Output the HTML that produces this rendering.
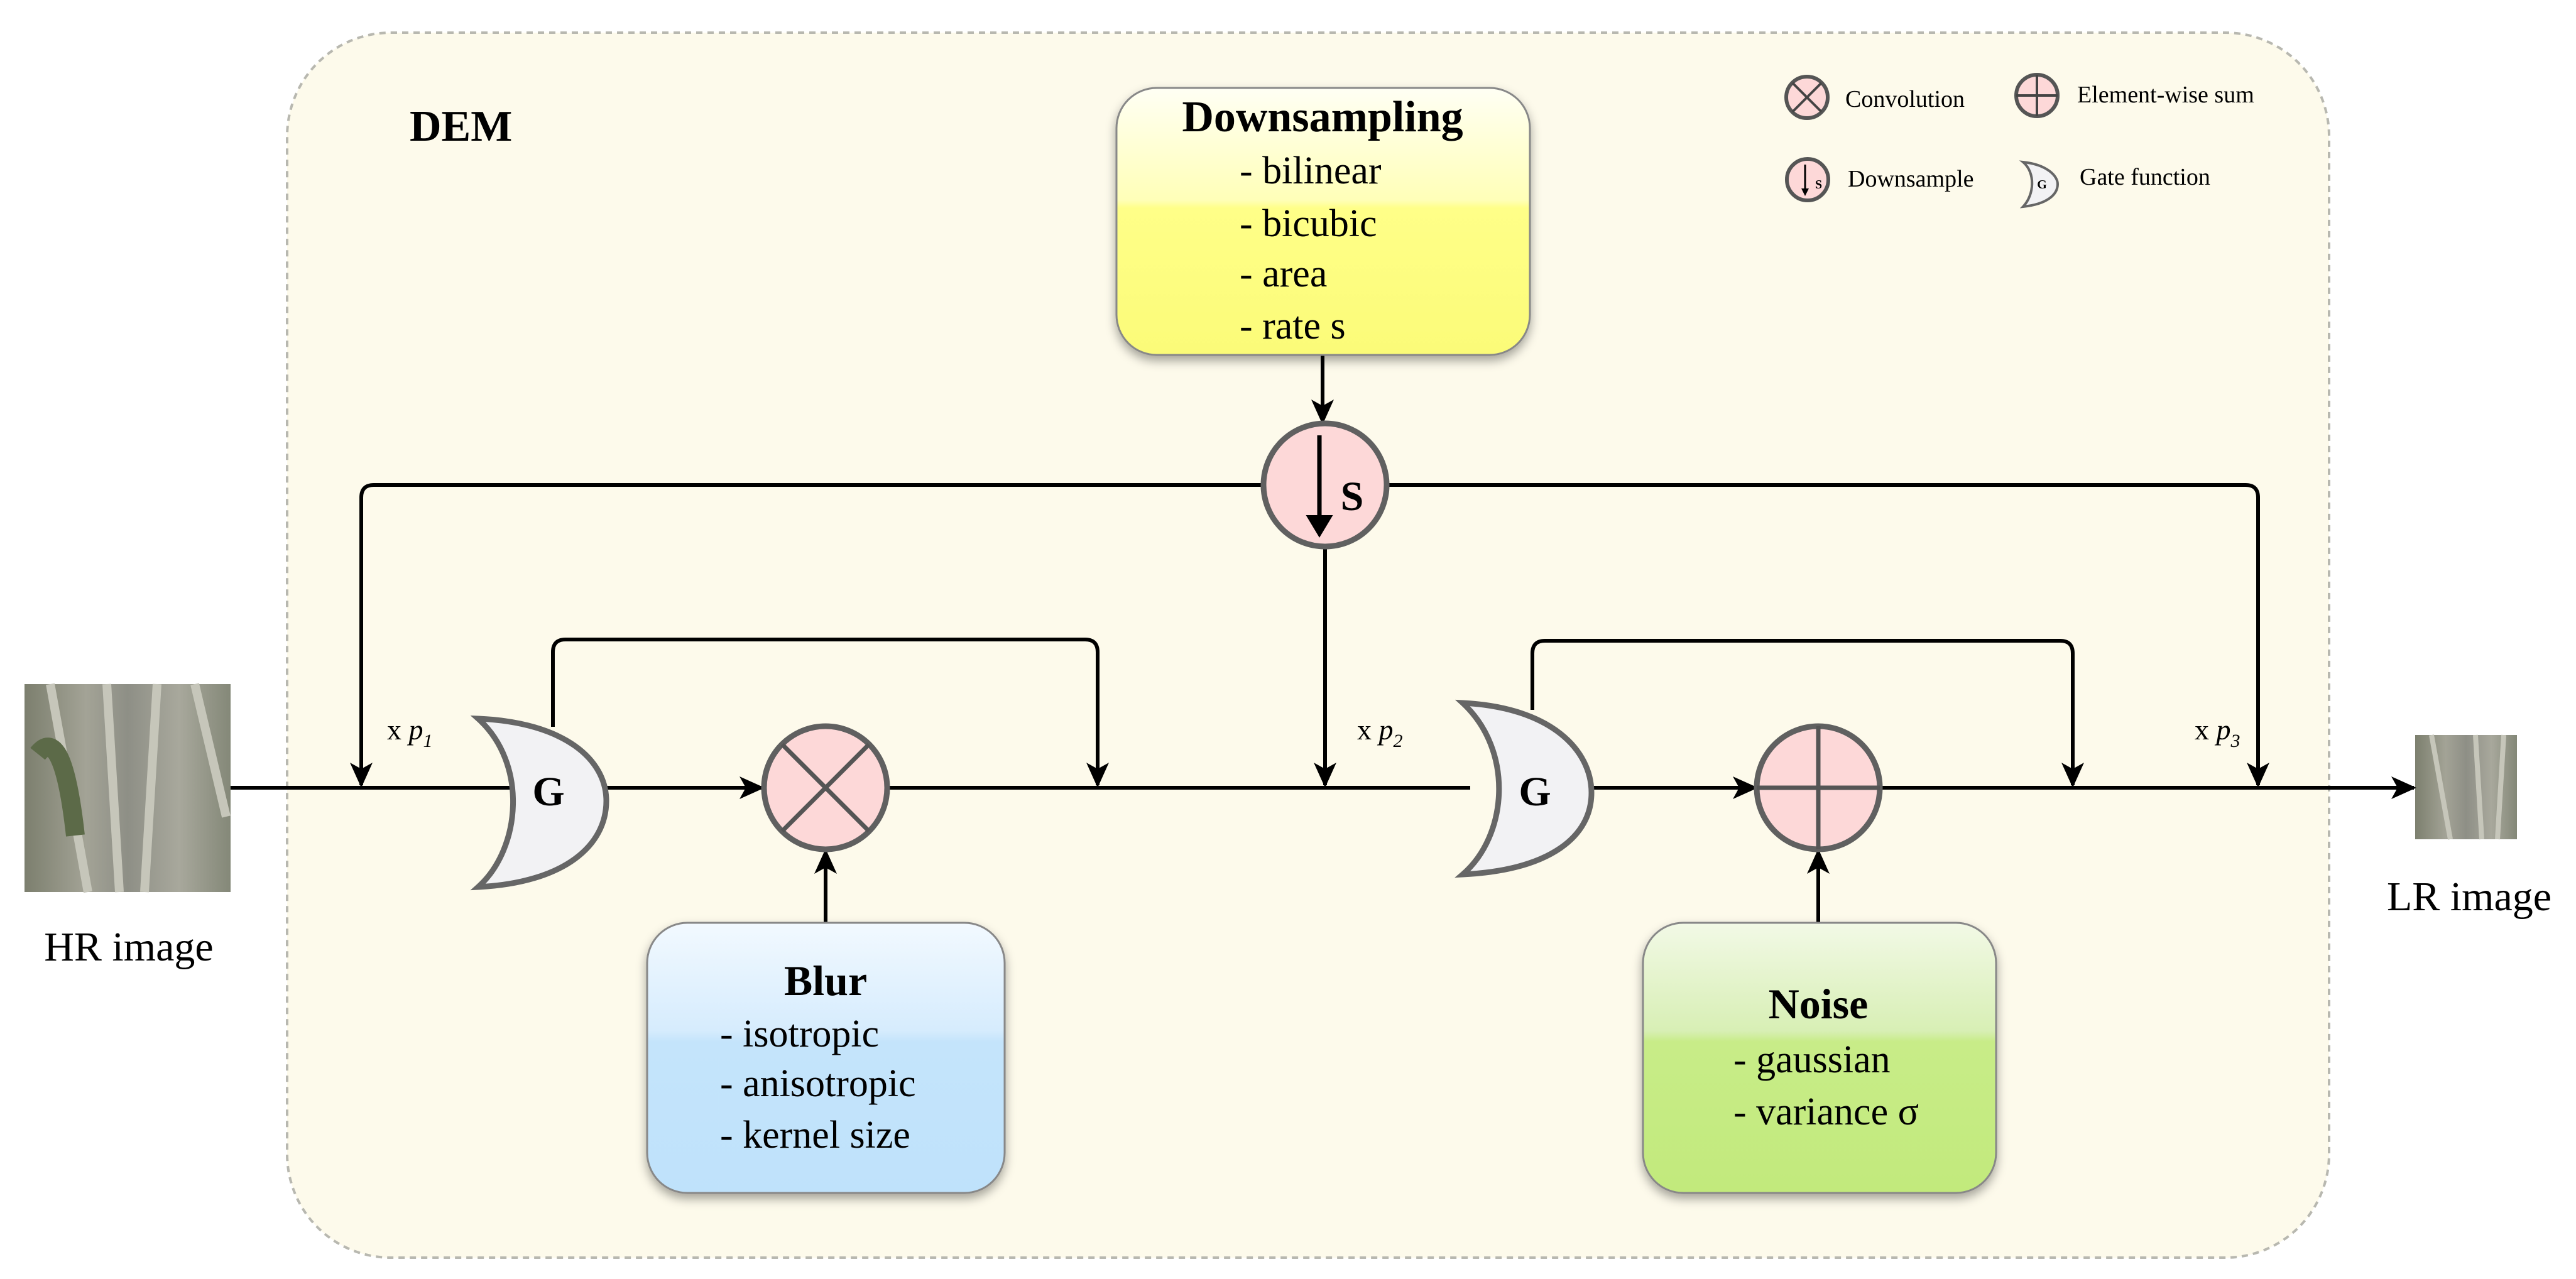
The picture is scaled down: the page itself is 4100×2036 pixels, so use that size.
<!DOCTYPE html>
<html><head><meta charset="utf-8"><style>
html,body{margin:0;padding:0;background:#fff}
svg{display:block}
</style></head><body>
<svg width="4100" height="2036" viewBox="0 0 4100 2036" xmlns="http://www.w3.org/2000/svg" font-family="'Liberation Serif', 'DejaVu Serif', serif">
<defs>
<linearGradient id="gy" x1="0" y1="0" x2="0" y2="1">
<stop offset="0" stop-color="#fffff4"/><stop offset="0.42" stop-color="#ffffb8"/><stop offset="0.45" stop-color="#ffff88"/><stop offset="1" stop-color="#fbfb78"/></linearGradient>
<linearGradient id="gb" x1="0" y1="0" x2="0" y2="1">
<stop offset="0" stop-color="#f2f9ff"/><stop offset="0.4" stop-color="#d6ecfd"/><stop offset="0.44" stop-color="#c4e4fb"/><stop offset="1" stop-color="#bfe2fb"/></linearGradient>
<linearGradient id="gg" x1="0" y1="0" x2="0" y2="1">
<stop offset="0" stop-color="#f2f9e6"/><stop offset="0.4" stop-color="#d8efb5"/><stop offset="0.44" stop-color="#c8ec88"/><stop offset="1" stop-color="#c2ea7c"/></linearGradient>
<linearGradient id="img" x1="0" y1="0" x2="1" y2="0">
<stop offset="0" stop-color="#7c7f6e"/><stop offset="0.3" stop-color="#a3a396"/><stop offset="0.5" stop-color="#8e8f86"/><stop offset="0.75" stop-color="#a8a89c"/><stop offset="1" stop-color="#848878"/></linearGradient>
<filter id="sh" x="-10%" y="-10%" width="120%" height="125%"><feDropShadow dx="0" dy="8" stdDeviation="8" flood-color="#000" flood-opacity="0.35"/></filter>
<marker id="ar" markerWidth="40" markerHeight="40" refX="9" refY="5" orient="auto" markerUnits="userSpaceOnUse" viewBox="0 0 10 10"><path d="M0,0.5 L10,5 L0,9.5 L2.5,5 Z" fill="#000"/></marker>
</defs>

<!-- container -->
<rect x="457" y="52" width="3250" height="1950" rx="165" ry="165" fill="#fdfaeb" stroke="#b8b8b0" stroke-width="4" stroke-dasharray="10,8"/>
<text x="652" y="224" font-size="70" font-weight="bold">DEM</text>

<!-- images -->
<rect x="39" y="1089" width="328" height="331" fill="url(#img)"/>
<path d="M80 1089 L140 1420 M170 1089 L190 1420 M250 1089 L230 1420 M310 1089 L360 1300" stroke="#c6c6ba" stroke-width="14" fill="none"/>
<path d="M60 1200 Q100 1150 120 1330" stroke="#5c6a48" stroke-width="30" fill="none"/>
<rect x="3844" y="1170" width="162" height="166" fill="url(#img)"/>
<path d="M3870 1170 L3900 1336 M3940 1170 L3950 1336 M3985 1170 L3975 1336" stroke="#c6c6ba" stroke-width="8" fill="none"/>
<text x="205" y="1529" font-size="66" text-anchor="middle">HR image</text>
<text x="3930" y="1449" font-size="66" text-anchor="middle">LR image</text>

<!-- lines -->
<g stroke="#000" stroke-width="6" fill="none">
<line x1="367" y1="1254" x2="812" y2="1254"/>
<line x1="965" y1="1254" x2="1213" y2="1254" marker-end="url(#ar)"/>
<line x1="1413" y1="1254" x2="2340" y2="1254"/>
<line x1="2520" y1="1254" x2="2794" y2="1254" marker-end="url(#ar)"/>
<line x1="2993" y1="1254" x2="3842" y2="1254" marker-end="url(#ar)"/>
<path d="M2010 772 L595 772 Q575 772 575 792 L575 1250" marker-end="url(#ar)"/>
<path d="M2206 772 L3574 772 Q3594 772 3594 792 L3594 1250" marker-end="url(#ar)"/>
<line x1="2109" y1="870" x2="2109" y2="1250" marker-end="url(#ar)"/>
<line x1="2105" y1="565" x2="2105" y2="672" marker-end="url(#ar)"/>
<path d="M880 1157 L880 1038 Q880 1018 900 1018 L1727 1018 Q1747 1018 1747 1038 L1747 1250" marker-end="url(#ar)"/>
<path d="M2439 1130 L2439 1040 Q2439 1020 2459 1020 L3279 1020 Q3299 1020 3299 1040 L3299 1250" marker-end="url(#ar)"/>
<line x1="1314" y1="1469" x2="1314" y2="1355" marker-end="url(#ar)"/>
<line x1="2894" y1="1469" x2="2894" y2="1355" marker-end="url(#ar)"/>
</g>
<g font-size="46">
<text x="616" y="1177">x <tspan font-style="italic">p</tspan><tspan font-style="italic" font-size="30" dy="12">1</tspan></text>
<text x="2160" y="1177">x <tspan font-style="italic">p</tspan><tspan font-style="italic" font-size="30" dy="12">2</tspan></text>
<text x="3493" y="1177">x <tspan font-style="italic">p</tspan><tspan font-style="italic" font-size="30" dy="12">3</tspan></text>
</g>

<!-- gates -->
<path d="M761 1144 C900 1150 965 1210 965 1275 C965 1345 900 1405 761 1412 C830 1350 840 1215 761 1144 Z" fill="#f2f2f4" stroke="#666" stroke-width="9"/>
<text x="873" y="1282" font-size="66" font-weight="bold" text-anchor="middle">G</text>
<path d="M2328 1119 C2470 1126 2533 1195 2533 1262 C2533 1330 2470 1385 2328 1392 C2400 1330 2410 1195 2328 1119 Z" fill="#f2f2f4" stroke="#666" stroke-width="9"/>
<text x="2443" y="1282" font-size="66" font-weight="bold" text-anchor="middle">G</text>

<!-- circles -->
<circle cx="1314" cy="1254" r="98" fill="#fdd8d8" stroke="#606060" stroke-width="9"/>
<path d="M1245 1185 L1383 1323 M1383 1185 L1245 1323" stroke="#555" stroke-width="7"/>
<circle cx="2894" cy="1254" r="98" fill="#fdd8d8" stroke="#606060" stroke-width="9"/>
<path d="M2894 1156 L2894 1352 M2796 1254 L2992 1254" stroke="#555" stroke-width="7"/>
<circle cx="2109" cy="772" r="98" fill="#fdd8d8" stroke="#606060" stroke-width="9"/>
<line x1="2100" y1="693" x2="2100" y2="830" stroke="#000" stroke-width="7"/>
<path d="M2082 822 L2100 852 L2118 822 Z" fill="#000" stroke="#000" stroke-width="4"/>
<text x="2152" y="812" font-size="66" font-weight="bold" text-anchor="middle">S</text>

<!-- boxes -->
<rect x="1777" y="140" width="658" height="425" rx="64" fill="url(#gy)" stroke="#888" stroke-width="3" filter="url(#sh)"/>
<text x="2105" y="209" font-size="70" font-weight="bold" text-anchor="middle">Downsampling</text>
<g font-size="62"><text x="1973" y="292">- bilinear</text><text x="1973" y="376">- bicubic</text><text x="1973" y="456">- area</text><text x="1973" y="539">- rate s</text></g>

<rect x="1030" y="1469" width="569" height="430" rx="64" fill="url(#gb)" stroke="#888" stroke-width="3" filter="url(#sh)"/>
<text x="1314" y="1584" font-size="68" font-weight="bold" text-anchor="middle">Blur</text>
<g font-size="62"><text x="1146" y="1666">- isotropic</text><text x="1146" y="1745">- anisotropic</text><text x="1146" y="1827">- kernel size</text></g>

<rect x="2615" y="1469" width="562" height="430" rx="64" fill="url(#gg)" stroke="#888" stroke-width="3" filter="url(#sh)"/>
<text x="2894" y="1621" font-size="68" font-weight="bold" text-anchor="middle">Noise</text>
<g font-size="62"><text x="2759" y="1707">- gaussian</text><text x="2759" y="1790">- variance σ</text></g>

<!-- legend -->
<circle cx="2876" cy="155" r="33" fill="#fdd8d8" stroke="#555" stroke-width="6"/>
<path d="M2853 132 L2899 178 M2899 132 L2853 178" stroke="#444" stroke-width="4"/>
<text x="2937" y="170" font-size="38">Convolution</text>
<circle cx="3242" cy="152" r="33" fill="#fdd8d8" stroke="#555" stroke-width="6"/>
<path d="M3242 119 L3242 185 M3209 152 L3275 152" stroke="#444" stroke-width="4"/>
<text x="3306" y="163" font-size="38">Element-wise sum</text>
<circle cx="2877" cy="286" r="33" fill="#fdd8d8" stroke="#555" stroke-width="6"/>
<line x1="2873" y1="262" x2="2873" y2="305" stroke="#000" stroke-width="3"/>
<path d="M2867 300 L2873 312 L2879 300 Z" fill="#000"/>
<text x="2889" y="300" font-size="20" font-weight="bold">S</text>
<text x="2941" y="297" font-size="38">Downsample</text>
<path d="M3220 258 C3258 262 3275 280 3275 293 C3275 310 3258 325 3220 329 C3238 310 3240 275 3220 258 Z" fill="#f2f2f4" stroke="#666" stroke-width="4"/>
<text x="3250" y="300" font-size="20" font-weight="bold" text-anchor="middle">G</text>
<text x="3310" y="294" font-size="38">Gate function</text>
</svg>
</body></html>
